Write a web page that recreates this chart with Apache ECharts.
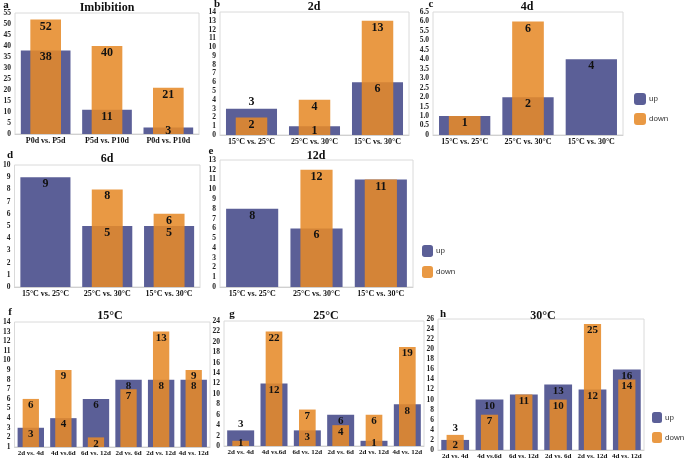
<!DOCTYPE html>
<html><head><meta charset="utf-8">
<script src="https://cdn.jsdelivr.net/npm/echarts@6/dist/echarts.min.js"></script>
<style>html,body{margin:0;padding:0;background:#fff}#c{width:685px;height:460px}</style>
</head><body><div id="c"></div>
<script>
// ---- data ----
const catsImb = ['P0d vs. P5d','P5d vs. P10d','P0d vs. P10d'];
const catsTemp = ['15°C vs. 25°C','25°C vs. 30°C','15°C vs. 30°C'];
const catsDay = ['2d vs. 4d','4d vs.6d','6d vs. 12d','2d vs. 6d','2d vs. 12d','4d vs. 12d'];

const upA = [38, 11, 3],   downA = [52, 40, 21];
const upB = [3, 1, 6],     downB = [2, 4, 13];
const upC = [1, 2, 4],     downC = [1, 6, 0];
const upD = [9, 5, 5],     downD = [0, 8, 6];
const upE = [8, 6, 11],    downE = [0, 12, 11];
const upF = [3, 4, 6, 8, 8, 8],      downF = [6, 9, 2, 7, 13, 9];
const upG = [3, 12, 3, 6, 1, 8],     downG = [1, 22, 7, 4, 6, 19];
const upH = [2, 10, 11, 13, 12, 16], downH = [3, 7, 11, 10, 25, 14];

const panelTitles = ['Imbibition', '2d', '4d', '6d', '12d', '15°C', '25°C', '30°C'];
const panelLetters = ['a', 'b', 'c', 'd', 'e', 'f', 'g', 'h'];
const yMin  = [0, 0, 0, 0, 0, 1, 0, 0];
const yMax  = [55, 14, 6.5, 10, 13, 14, 24, 26];
const yStep = [5, 1, 0.5, 1, 1, 1, 2, 2];
const legendNames = ['up', 'down'];

// ---- layout / style ----
const panels = [
  {cats: catsImb,  up: upA, down: downA, l: 15,  t: 13,  r: 199, b: 134, fs: 12, cfs: 8},
  {cats: catsTemp, up: upB, down: downB, l: 220, t: 12,  r: 409, b: 135, fs: 12, cfs: 8},
  {cats: catsTemp, up: upC, down: downC, l: 433, t: 12,  r: 623, b: 135, fs: 12, cfs: 8},
  {cats: catsTemp, up: upD, down: downD, l: 13,  t: 165, r: 200, b: 287, fs: 12, cfs: 8},
  {cats: catsTemp, up: upE, down: downE, l: 220, t: 160, r: 413, b: 287, fs: 12, cfs: 8},
  {cats: catsDay,  up: upF, down: downF, l: 10,  t: 322, r: 210, b: 447, fs: 11, cfs: 7},
  {cats: catsDay,  up: upG, down: downG, l: 224, t: 321, r: 424, b: 446, fs: 11, cfs: 7},
  {cats: catsDay,  up: upH, down: downH, l: 438, t: 319, r: 644, b: 451, fs: 11, cfs: 7}
];
const titlePos = [[107, 8], [314, 7], [527, 7], [107, 159], [316, 156], [110, 316], [326, 316], [543, 316]];
const letterPos = [[6, 5], [217, 4], [431, 4], [10, 155], [211, 151], [10, 312], [232, 314], [443, 314]];
const labelPos = {'b-up-0': 'top', 'g-up-0': 'top', 'h-down-0': 'top',
  'a-up-2': 'inside', 'b-up-1': 'inside', 'g-down-0': 'inside', 'g-up-4': 'inside', 'h-up-0': 'inside'};

const SERIF = '"Liberation Serif", "Times New Roman", serif';
const SANS = '"Liberation Sans", Arial, sans-serif';
const BLUE = '#5b5f97';
const ORANGE = 'rgba(230,138,40,0.87)';

const grid = [], xAxis = [], yAxis = [], series = [], graphic = [];
panels.forEach((p, i) => {
  const L = panelLetters[i];
  grid.push({left: p.l, top: p.t, width: p.r - p.l, height: p.b - p.t, show: true,
    borderColor: '#dadada', borderWidth: 1, backgroundColor: 'transparent'});
  xAxis.push({type: 'category', gridIndex: i, data: p.cats,
    axisTick: {show: false}, axisLine: {lineStyle: {color: '#d0d0d0'}},
    axisLabel: {interval: 0, margin: 3, fontFamily: SERIF, fontWeight: 'bold', fontSize: p.cfs, color: '#111'}});
  xAxis.push({type: 'category', gridIndex: i, data: p.cats, show: false});
  yAxis.push({type: 'value', gridIndex: i, min: yMin[i], max: yMax[i], interval: yStep[i],
    splitLine: {show: false}, axisLine: {show: false}, axisTick: {show: false},
    axisLabel: {margin: 4, fontFamily: SERIF, fontWeight: 'bold', fontSize: 7.5, color: '#222',
      formatter: v => (yStep[i] < 1 && v !== 0) ? v.toFixed(1) : String(v)}});
  const mk = (arr, kind, other) => arr.map((v, k) => {
    const key = L + '-' + kind + '-' + k;
    const hide = v === 0 || (kind === 'up' && v === other[k]);
    const o = {value: v};
    if (hide) o.label = {show: false};
    else if (labelPos[key]) o.label = {position: labelPos[key]};
    return o;
  });
  const lab = {show: true, position: 'insideTop', distance: 1, fontFamily: SERIF, fontWeight: 'bold',
    fontSize: p.fs, color: '#111'};
  series.push({type: 'bar', name: 'up', xAxisIndex: 2 * i, yAxisIndex: i, barWidth: '81%', barGap: '-100%',
    data: p.up, itemStyle: {color: BLUE}, label: {show: false}, z: 2});
  series.push({type: 'bar', name: 'down', xAxisIndex: 2 * i + 1, yAxisIndex: i, barWidth: '50%',
    data: mk(p.down, 'down', p.up), itemStyle: {color: ORANGE}, label: lab, z: 3});
  // label carrier for the "up" values, drawn above the orange bars
  series.push({type: 'bar', name: 'up-label', xAxisIndex: 2 * i, yAxisIndex: i, barWidth: '81%', barGap: '-100%',
    data: mk(p.up, 'up', p.down), itemStyle: {color: 'rgba(0,0,0,0)'}, label: lab, z: 4, silent: true});
  graphic.push({type: 'text', x: titlePos[i][0], y: titlePos[i][1],
    style: {text: panelTitles[i], font: 'bold 12px ' + SERIF, fill: '#111', textAlign: 'center', textVerticalAlign: 'middle'}});
  graphic.push({type: 'text', x: letterPos[i][0], y: letterPos[i][1],
    style: {text: L, font: 'bold 11px ' + SERIF, fill: '#111', textAlign: 'center', textVerticalAlign: 'middle'}});
});

const mkLegend = (x, y, w, h, gap) => ({data: legendNames, orient: 'vertical', left: x, top: y, padding: 0,
  itemWidth: w, itemHeight: h, itemGap: gap, icon: 'roundRect', selectedMode: false,
  textStyle: {fontSize: 8, fontFamily: SANS, color: '#333', padding: [0, 0, 0, -2]}});

const chart = echarts.init(document.getElementById('c'), null, {renderer: 'canvas'});
chart.setOption({
  animation: false,
  backgroundColor: '#fff',
  grid, xAxis, yAxis, series, graphic,
  legend: [mkLegend(634, 93, 12, 12, 8), mkLegend(422, 245, 11, 12, 9), mkLegend(652, 412, 10, 11, 9)]
});
</script></body></html>
